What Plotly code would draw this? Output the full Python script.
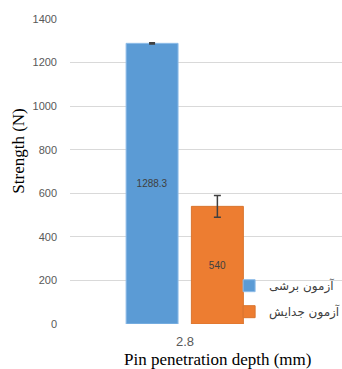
import plotly.graph_objects as go

categories = ["2.8"]
series_names = ["آزمون برشی", "آزمون جدایش"]
shear_values = [1288.3]
peel_values = [540]
shear_err = [3]
peel_err = [50]
value_labels_shear = ["1288.3"]
value_labels_peel = ["540"]
y_ticks = [0, 200, 400, 600, 800, 1000, 1200, 1400]

fig = go.Figure()
fig.add_trace(go.Bar(
    x=categories, y=shear_values, name=series_names[0], legendgroup="a",
    width=0.226, offset=-0.256,
    marker=dict(color="#5B9BD5", line=dict(color="#8FBDE8", width=1)),
    text=value_labels_shear, textposition="inside", insidetextanchor="middle",
    textfont=dict(color="#404040", size=10, family="Liberation Sans"),
    error_y=dict(type="data", array=shear_err, color="#404040", thickness=1.5, width=3),
))
fig.add_trace(go.Bar(
    x=categories, y=peel_values, name=series_names[1], legendgroup="b",
    width=0.226, offset=0.028,
    marker=dict(color="#ED7D31", line=dict(color="#D9752F", width=1)),
    text=value_labels_peel, textposition="inside", insidetextanchor="middle",
    textfont=dict(color="#404040", size=10, family="Liberation Sans"),
    error_y=dict(type="data", array=peel_err, color="#404040", thickness=1.5, width=3.5),
))

fig.update_layout(
    width=342, height=369,
    margin=dict(l=70, r=0, t=19, b=45, autoexpand=False),
    paper_bgcolor="white", plot_bgcolor="white",
    barmode="overlay",
    showlegend=True,
    legend=dict(x=0.585, y=0.083, xanchor="left", yanchor="middle",
                bgcolor="rgba(0,0,0,0)", tracegroupgap=7,
                font=dict(size=12, color="#404040", family="DejaVu Sans")),
    xaxis=dict(type="category", range=[-0.5, 0.683], showgrid=False, showline=False,
               ticks="", ticklabelstandoff=8,
               tickfont=dict(size=13, color="#595959", family="Liberation Sans")),
    yaxis=dict(range=[0, 1400], tickvals=y_ticks, showgrid=True, gridcolor="#D9D9D9",
               gridwidth=1, zeroline=False, showline=False, ticks="",
               ticklabelstandoff=12,
               tickfont=dict(size=11, color="#595959", family="Liberation Sans")),
)

fig.add_annotation(text="Strength (N)", xref="paper", yref="paper", x=-0.1875, y=0.565,
                   xanchor="center", yanchor="middle",
                   textangle=-90, showarrow=False,
                   font=dict(size=17, color="#000000", family="Liberation Serif"))
fig.add_annotation(text="Pin penetration depth (mm)", xref="paper", yref="paper",
                   x=0.542, y=-0.118, xanchor="center", yanchor="middle", showarrow=False,
                   font=dict(size=17, color="#000000", family="Liberation Serif"))

fig.write_html("out.html")
